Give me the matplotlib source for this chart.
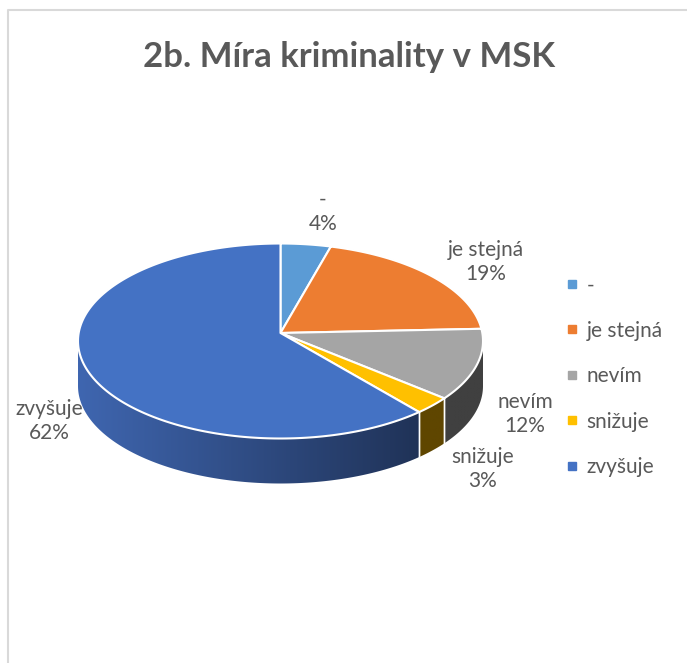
import numpy as np
import matplotlib
matplotlib.use("Agg")
import matplotlib.pyplot as plt
from matplotlib.patches import Polygon
from matplotlib.lines import Line2D
from matplotlib.colors import to_rgb

plt.rcParams['font.family'] = ['Lato', 'DejaVu Sans']

title = "2b. Míra kriminality v MSK"
categories = ['-', 'je stejná', 'nevím', 'snižuje', 'zvyšuje']
values = [4, 19, 12, 3, 62]
top_colors = ['#5B9BD5', '#ED7D31', '#A5A5A5', '#FFC000', '#4472C4']
side_light = ['#3d6a96', '#a5561f', '#444444', '#624800', '#3f66b0']
side_dark = ['#2c4e70', '#7a3f16', '#3c3c3c', '#5c4400', '#1a2947']
label_pos = [(323, 212), (486, 262), (525, 414), (483, 469), (49, 421)]
TXT = '#595959'

W, H = 687, 663
fig = plt.figure(figsize=(W / 100, H / 100), dpi=100)
ax = fig.add_axes([0, 0, 1, 1])
ax.set_xlim(0, W)
ax.set_ylim(H, 0)
ax.axis('off')

# chart frame
ax.plot([8, 8, W + 5], [H + 5, 10, 10], color='#d9d9d9', lw=1.5, zorder=0)

cx, cy, rx, ry, depth = 280.5, 341.0, 202.5, 97.5, 45.0

def pt(theta_deg, dy=0.0):
    t = np.radians(theta_deg)
    return cx + rx * np.sin(t), cy - ry * np.cos(t) + dy

total = float(sum(values))
bounds = np.concatenate([[0], np.cumsum(values)]) / total * 360.0

# side walls (visible front half: 90..270 deg)
for i in range(len(values)):
    a0, a1 = max(bounds[i], 90), min(bounds[i + 1], 270)
    if a1 <= a0:
        continue
    angs = np.linspace(a0, a1, 200)
    poly = [pt(a) for a in angs] + [pt(a, depth) for a in angs[::-1]]
    cl, cd = np.array(to_rgb(side_light[i])), np.array(to_rgb(side_dark[i]))
    ys = np.array([p[1] for p in poly])
    if i == 4:
        f = np.linspace(0, 1, 256)[None, :, None]
        img = cl[None, None, :] * (1 - f) + cd[None, None, :] * f
        img = np.repeat(img, 2, axis=0)
    else:
        img = np.repeat(np.repeat((0.5 * (cl + cd))[None, None, :], 2, 0), 2, 1)
    im = ax.imshow(img, extent=(cx - rx, cx + rx, ys.max() + 1, ys.min() - 1),
                   aspect='auto', interpolation='bilinear', zorder=2)
    patch = Polygon(poly, closed=True, facecolor='none', edgecolor='none', zorder=2)
    ax.add_patch(patch)
    im.set_clip_path(patch)
    for a in (a0, a1):
        if 90 < a < 270:
            p, q = pt(a), pt(a, depth)
            ax.plot([p[0], q[0]], [p[1], q[1]], color='white', lw=1.0, zorder=3)

ax.set_xlim(0, W)
ax.set_ylim(H, 0)

# top faces
for i in range(len(values)):
    angs = np.linspace(bounds[i], bounds[i + 1], 200)
    poly = [(cx, cy - 8)] + [pt(a) for a in angs]
    ax.add_patch(Polygon(poly, closed=True, facecolor=top_colors[i],
                         edgecolor='white', lw=1.5, joinstyle='round', zorder=4))

# labels
for i, (lx, ly) in enumerate(label_pos):
    ax.text(lx, ly, f"{categories[i]}\n{values[i]}%", ha='center', va='center',
            fontsize=15, color=TXT, linespacing=1.3, zorder=6)

ax.text(349, 57, title, ha='center', va='center', fontsize=25,
        fontweight='bold', color=TXT)

handles = [Line2D([], [], marker='s', ls='', markersize=6, color=c) for c in top_colors]
leg = fig.legend(handles, categories, loc='upper left',
                 bbox_to_anchor=(553 / W, 1 - 267 / H), frameon=False,
                 fontsize=15, labelspacing=1.22, handletextpad=0.2,
                 handlelength=1.0, borderaxespad=0)
for t in leg.get_texts():
    t.set_color(TXT)

fig.savefig('out.png', dpi=100)
